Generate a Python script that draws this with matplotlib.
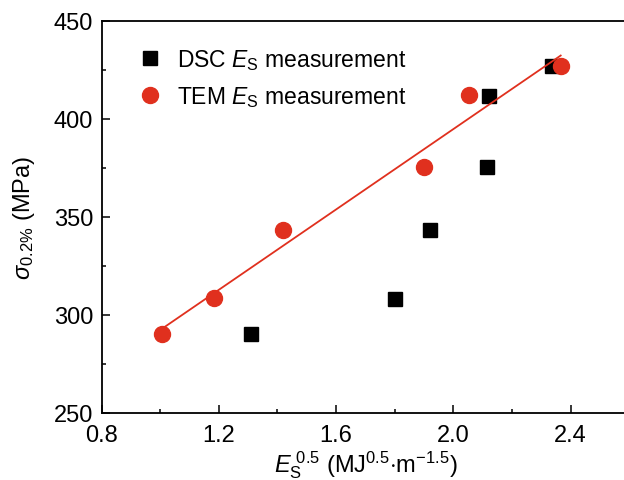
import matplotlib
matplotlib.use('Agg')
import matplotlib.pyplot as plt
import numpy as np
from matplotlib.ticker import MultipleLocator

plt.rcParams['font.family'] = ['Liberation Sans', 'DejaVu Sans']
plt.rcParams['mathtext.fontset'] = 'custom'
plt.rcParams['mathtext.rm'] = 'Liberation Sans'
plt.rcParams['mathtext.it'] = 'Liberation Sans:italic'
plt.rcParams['mathtext.bf'] = 'Liberation Sans:bold'

# data
dsc_x = [1.31, 1.80, 1.92, 2.115, 2.123, 2.336]
dsc_y = [290, 308, 343, 375.5, 411.5, 427]
tem_x = [1.007, 1.184, 1.419, 1.900, 2.054, 2.366]
tem_y = [290, 308.5, 343, 375.5, 412, 427]

red = '#e0301e'

fig = plt.figure(figsize=(6.24, 4.81), dpi=100)
ax = fig.add_axes([101.5/624, 1-413.7/481, (629.3-101.5)/624, (413.7-21.7)/481])

ax.plot(dsc_x, dsc_y, 's', color='black', markersize=10, label=r'DSC $E_\mathregular{S}$ measurement', zorder=3)
ax.plot(tem_x, tem_y, 'o', color=red, markersize=11.5, label=r'TEM $E_\mathregular{S}$ measurement', zorder=4)

# linear fit of TEM points
z = np.polyfit(tem_x, tem_y, 1)
p = np.poly1d(z)
xf = np.linspace(min(tem_x), max(tem_x), 50)
ax.plot(xf, p(xf), '-', color=red, linewidth=1.3, zorder=5)

ax.set_xlim(0.8, 2.6)
ax.set_ylim(250, 450)
ax.xaxis.set_major_locator(MultipleLocator(0.4))
ax.xaxis.set_minor_locator(MultipleLocator(0.2))
ax.yaxis.set_major_locator(MultipleLocator(50))
ax.yaxis.set_minor_locator(MultipleLocator(25))
ax.xaxis.set_major_formatter(matplotlib.ticker.FormatStrFormatter('%.1f'))
ax.tick_params(which='both', direction='in', labelsize=17, width=1.1)
ax.tick_params(which='major', length=6)
ax.tick_params(which='minor', length=3)
ax.tick_params(axis='x', pad=8)
ax.tick_params(axis='y', pad=6)
for s in ax.spines.values():
    s.set_linewidth(1.3)

ax.set_xlabel(r'$E_\mathregular{S}^{\ 0.5}$ (MJ$^{0.5}$$\cdot$m$^{-1.5}$)', fontsize=17, labelpad=2)
ax.set_ylabel(r'$\sigma_{0.2\%}$ (MPa)', fontsize=17, labelpad=12)

ax.legend(loc='upper left', frameon=False, fontsize=16.5, handletextpad=0.43,
          handlelength=1.5, borderaxespad=0, labelspacing=0.53,
          bbox_to_anchor=(0.042, 0.956))

fig.savefig('out.png', dpi=100)
